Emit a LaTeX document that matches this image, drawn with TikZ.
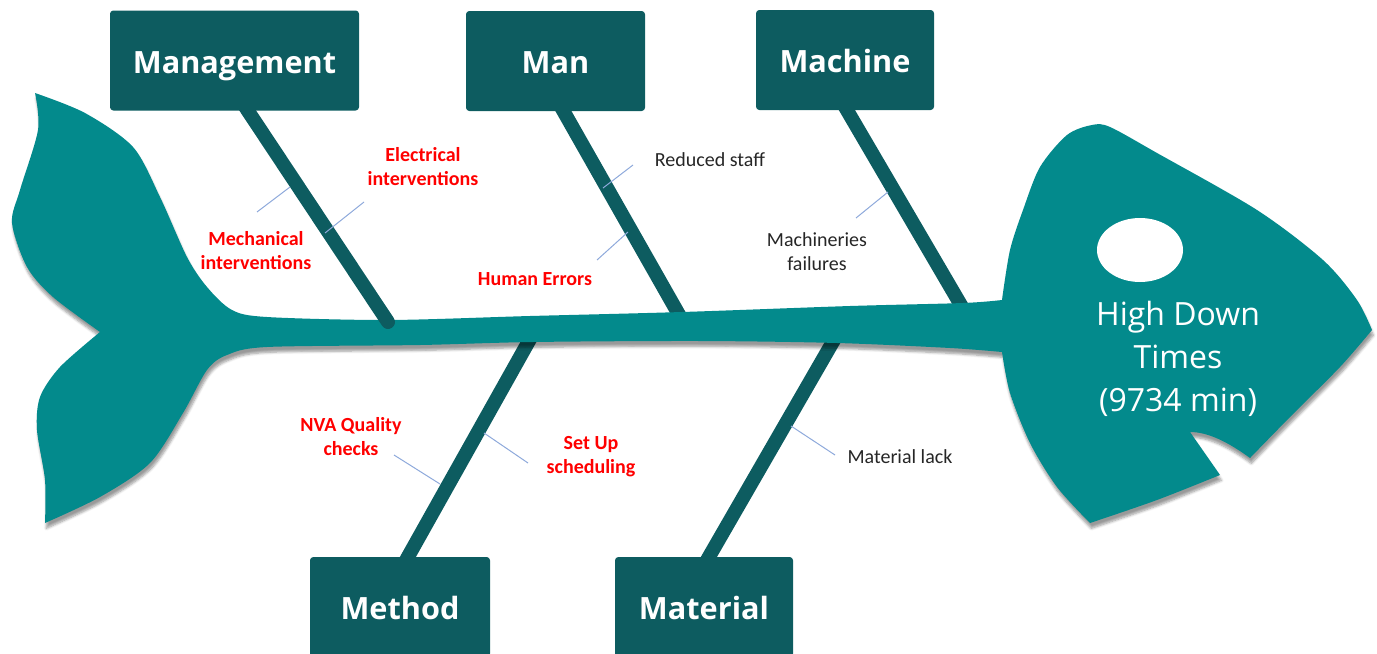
\documentclass[tikz,border=0pt]{standalone}
\usepackage{fontspec}
\setmainfont{Carlito}
\newfontfamily\titlefont{Open Sans}
\usetikzlibrary{shadows.blur}

\definecolor{fishteal}{HTML}{038A8C}
\definecolor{boneteal}{HTML}{0D5C60}
\definecolor{leader}{HTML}{8EA9DB}
\definecolor{causered}{HTML}{FF0000}

\tikzset{
	category/.style={fill=boneteal, rounded corners=2.5pt, inner sep=0pt, minimum height=75pt,
		text height=22pt, text depth=3.2pt,
		text=white, font=\titlefont\bfseries\fontsize{23}{28}\selectfont},
	bone/.style={boneteal, line width=10.5pt},
	callout/.style={leader, line width=0.75pt},
	cause/.style={align=center, text=causered, font=\bfseries\fontsize{15}{18}\selectfont},
	note/.style={align=center, text=black!85, font=\fontsize{15}{18}\selectfont},
	effect/.style={align=center, text=white, font=\titlefont\fontsize{24}{32}\selectfont},
}

\begin{document}
\begin{tikzpicture}[x=0.75pt,y=-0.75pt]
	\useasboundingbox (0,0) rectangle (1377,653);
	\clip (0,0) rectangle (1377,653);

	% the five M boxes
	\node[category, minimum width=186.75pt] (mgmt) at (234.5,60.5) {Management};
	\node[category, minimum width=134.25pt] (man) at (555.5,61) {Man};
	\node[category, minimum width=133.5pt] (mach) at (845,60) {Machine};
	\node[category, minimum width=135pt] (method) at (400,607) {Method};
	\node[category, minimum width=133.5pt] (material) at (704,607) {Material};

	% where the bones meet the spine
	\coordinate (mgmtjoint) at (388,322);
	\coordinate (manjoint) at (682,320);
	\coordinate (machjoint) at (965,312);
	\coordinate (methodjoint) at (534,332);
	\coordinate (materialjoint) at (838,333);

	% bones that go under the spine
	\draw[bone, shorten <=-6pt] ([xshift=6pt]man.south) -- (manjoint);
	\draw[bone, shorten <=-6pt] ([xshift=1.5pt]mach.south) -- (machjoint);
	\draw[bone, shorten <=-6pt] ([xshift=6pt]method.north) -- (methodjoint);
	\draw[bone, shorten <=-6pt] ([xshift=3.75pt]material.north) -- (materialjoint);

	% fish body: tail, spine and head
	\fill[fishteal, blur shadow={shadow xshift=1pt, shadow yshift=-4pt, shadow opacity=40, shadow blur steps=6}]
		plot[smooth] coordinates {(35,93) (85,113) (133,147) (160,197) (187,257) (207,287) (232,310) (267,317)
			(388,320) (530,316) (682,312) (850,306) (963,303) (1002,300)}
		-- plot[smooth] coordinates {(1002,300) (1010,250) (1023,210) (1040,167) (1067,135) (1092,125) (1110,127)
			(1157,153) (1257,210) (1323,260) (1357,300) (1372,330)}
		-- plot[smooth] coordinates {(1372,330) (1340,367) (1290,417) (1250,458)}
		.. controls (1228,442) and (1208,432) .. (1190,432)
		-- (1220,475)
		-- plot[smooth] coordinates {(1220,475) (1157,500) (1090,523)}
		-- plot[smooth] coordinates {(1090,523) (1057,487) (1030,443) (1010,393) (1002,352)}
		-- plot[smooth] coordinates {(1002,352) (950,348) (837,343) (700,341) (533,342) (420,345) (267,347)
			(227,355) (207,370) (183,413) (150,463) (100,497) (45,523)}
		-- plot[smooth] coordinates {(45,523) (45,480) (37,430) (40,397) (60,367) (100,332)}
		-- plot[smooth] coordinates {(100,332) (53,297) (27,267) (12,223) (20,190) (38,130) (35,93)}
		-- cycle;
	\fill[white] (1140,250) ellipse [x radius=32.25pt, y radius=24pt];
	\node[effect] (down) at (1178,359) {High Down\\Times\\(9734 min)};

	\draw[bone, line cap=round, shorten <=-6pt] ([xshift=10pt]mgmt.south) -- (mgmtjoint);

	% causes
	\node[cause] (mech) at (256,251) {Mechanical\\interventions};
	\node[cause] (elec) at (423,167) {Electrical\\interventions};
	\node[cause] (human) at (535,279) {Human Errors};
	\node[note] (staff) at (710,160) {Reduced staff};
	\node[note] (failures) at (817,252) {Machineries\\failures};
	\node[cause] (nva) at (351,437) {NVA Quality\\checks};
	\node[cause] (setup) at (591,457) {Set Up\\scheduling};
	\node[note] (lack) at (900,457) {Material lack};

	% leader lines
	\draw[callout] (257,212) coordinate (mechend) -- (290,187) coordinate (mechbone);
	\draw[callout] (325,233) coordinate (elecbone) -- (364,202) coordinate (elecend);
	\draw[callout] (597,260) coordinate (humanend) -- (628,232) coordinate (humanbone);
	\draw[callout] (603,188) coordinate (staffbone) -- (633,165) coordinate (staffend);
	\draw[callout] (856,218) coordinate (failend) -- (888,192) coordinate (failbone);
	\draw[callout] (394,455) coordinate (nvaend) -- (440,484) coordinate (nvabone);
	\draw[callout] (484,433) coordinate (setupbone) -- (528,463) coordinate (setupend);
	\draw[callout] (791,426) coordinate (lackbone) -- (835,455) coordinate (lackend);
\end{tikzpicture}
\end{document}
